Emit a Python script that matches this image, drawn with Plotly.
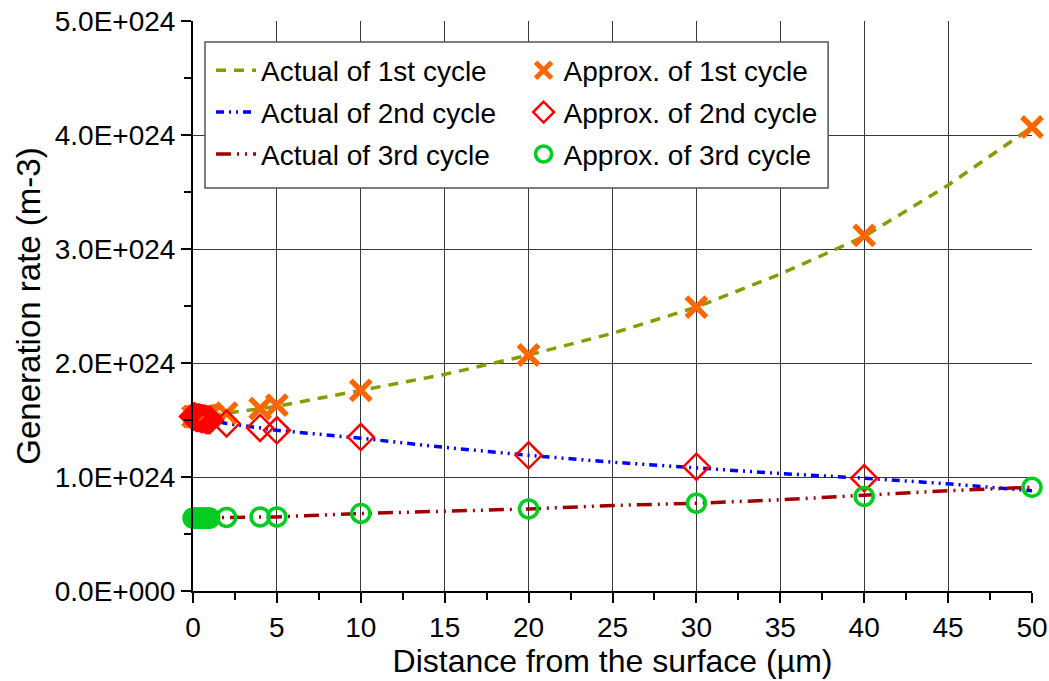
import plotly.graph_objects as go

# Distance from the surface (um) for the smooth "actual" curves
x_actual = [0, 1, 2, 5, 10, 15, 20, 25, 30, 35, 40, 45, 50]
actual_1st = [1.53e24, 1.54e24, 1.56e24, 1.62e24, 1.76e24, 1.90e24, 2.07e24, 2.26e24,
              2.49e24, 2.78e24, 3.11e24, 3.56e24, 4.07e24]
actual_2nd = [1.53e24, 1.50e24, 1.47e24, 1.41e24, 1.34e24, 1.26e24, 1.19e24, 1.13e24,
              1.08e24, 1.03e24, 0.99e24, 0.94e24, 0.88e24]
actual_3rd = [0.64e24, 0.64e24, 0.645e24, 0.65e24, 0.68e24, 0.70e24, 0.72e24, 0.75e24,
              0.77e24, 0.80e24, 0.84e24, 0.88e24, 0.91e24]

# Sample points of the approximation
x_approx = [0, 0.1, 0.2, 0.3, 0.4, 0.5, 0.6, 0.7, 0.8, 0.9, 1.0, 2, 4, 5, 10, 20, 30, 40, 50]
approx_1st = [1.53e24, 1.53e24, 1.53e24, 1.53e24, 1.53e24, 1.53e24, 1.535e24, 1.535e24,
              1.54e24, 1.54e24, 1.54e24, 1.56e24, 1.60e24, 1.63e24, 1.76e24, 2.07e24,
              2.49e24, 3.12e24, 4.07e24]
x_approx_2nd = [0, 0.1, 0.2, 0.3, 0.4, 0.5, 0.6, 0.7, 0.8, 0.9, 1.0, 2, 4, 5, 10, 20, 30, 40]
approx_2nd = [1.53e24, 1.53e24, 1.52e24, 1.52e24, 1.52e24, 1.51e24, 1.51e24, 1.51e24,
              1.50e24, 1.50e24, 1.50e24, 1.47e24, 1.43e24, 1.41e24, 1.35e24, 1.19e24,
              1.09e24, 0.99e24]
approx_3rd = [0.64e24, 0.64e24, 0.64e24, 0.64e24, 0.64e24, 0.64e24, 0.64e24, 0.64e24,
              0.64e24, 0.64e24, 0.64e24, 0.645e24, 0.65e24, 0.65e24, 0.68e24, 0.72e24,
              0.77e24, 0.83e24, 0.91e24]

y_tick_vals = [0, 1e24, 2e24, 3e24, 4e24, 5e24]
y_tick_text = ["0.0E+000", "1.0E+024", "2.0E+024", "3.0E+024", "4.0E+024", "5.0E+024"]
x_tick_vals = [0, 5, 10, 15, 20, 25, 30, 35, 40, 45, 50]

FONT = "Liberation Sans, Arial, sans-serif"

fig = go.Figure()

fig.add_trace(go.Scatter(
    x=x_actual, y=actual_1st, mode="lines", name="Actual of 1st cycle",
    line=dict(color="#8A9A00", width=3.5, dash="10px,8px"),
    legend="legend", legendgroup="a1"))
fig.add_trace(go.Scatter(
    x=x_actual, y=actual_2nd, mode="lines", name="Actual of 2nd cycle",
    line=dict(color="#0000FF", width=3.5, dash="8px,5px,2px,5px,2px,5px"),
    legend="legend", legendgroup="a2"))
fig.add_trace(go.Scatter(
    x=x_actual, y=actual_3rd, mode="lines", name="Actual of 3rd cycle",
    line=dict(color="#A00000", width=3.5, dash="15px,6px,2px,6px,2px,6px"),
    legend="legend", legendgroup="a3"))

fig.add_trace(go.Scatter(
    x=x_approx, y=approx_1st, mode="markers", name="Approx. of 1st cycle",
    marker=dict(symbol="x-thin", size=20, color="#FF6600",
                line=dict(color="#FF6600", width=5.5)),
    cliponaxis=False, legend="legend2", legendgroup="b1"))
fig.add_trace(go.Scatter(
    x=x_approx_2nd, y=approx_2nd, mode="markers", name="Approx. of 2nd cycle",
    marker=dict(symbol="diamond-open", size=20, color="#FF0000",
                line=dict(color="#FF0000", width=2.5)),
    cliponaxis=False, legend="legend2", legendgroup="b2"))
fig.add_trace(go.Scatter(
    x=x_approx, y=approx_3rd, mode="markers", name="Approx. of 3rd cycle",
    marker=dict(symbol="circle-open", size=18, color="#00CC22",
                line=dict(color="#00CC22", width=3.5)),
    cliponaxis=False, legend="legend2", legendgroup="b3"))

axis_font = dict(family=FONT, size=28, color="#000")

fig.update_layout(
    width=1049, height=681,
    margin=dict(l=193, r=17, t=21, b=90, autoexpand=False),
    paper_bgcolor="white", plot_bgcolor="white",
    font=dict(family=FONT, color="#000"),
    showlegend=True,
    xaxis=dict(
        range=[0, 50], tickvals=x_tick_vals, tickfont=axis_font, automargin=False,
        showgrid=True, gridcolor="#3a3a3a", gridwidth=1,
        showline=True, linecolor="#000", linewidth=2,
        ticks="outside", ticklen=10, tickcolor="#000", tickwidth=1.5,
        minor=dict(dtick=2.5, ticks="outside", ticklen=7, tickcolor="#000",
                   tickwidth=1.5, showgrid=False),
        zeroline=False,
        title=dict(text="Distance from the surface (µm)",
                   font=dict(family=FONT, size=32), standoff=4),
    ),
    yaxis=dict(
        range=[0, 5e24], tickvals=y_tick_vals, ticktext=y_tick_text, tickfont=axis_font,
        automargin=False,
        showgrid=True, gridcolor="#3a3a3a", gridwidth=1,
        showline=True, linecolor="#000", linewidth=2,
        ticks="outside", ticklen=10, tickcolor="#000", tickwidth=1.5,
        minor=dict(dtick=0.5e24, ticks="outside", ticklen=7, tickcolor="#000",
                   tickwidth=1.5, showgrid=False),
        zeroline=False,
        title=dict(text="Generation rate (m-3)",
                   font=dict(family=FONT, size=33), standoff=4),
    ),
    legend=dict(
        x=0.0215, y=0.957, xanchor="left", yanchor="top",
        bgcolor="rgba(0,0,0,0)", borderwidth=0,
        font=dict(family=FONT, size=28), itemwidth=40,
        traceorder="grouped", tracegroupgap=2.5,
    ),
    legend2=dict(
        x=0.394, y=0.957, xanchor="left", yanchor="top",
        bgcolor="rgba(0,0,0,0)", borderwidth=0,
        font=dict(family=FONT, size=28), itemwidth=30,
        traceorder="grouped", tracegroupgap=2.5,
    ),
    shapes=[dict(
        type="rect", xref="paper", yref="paper", layer="above",
        x0=0.0143, x1=0.757, y0=0.707, y1=0.963,
        fillcolor="white", line=dict(color="#555", width=1.5),
    )],
)

fig.write_html("out.html")
